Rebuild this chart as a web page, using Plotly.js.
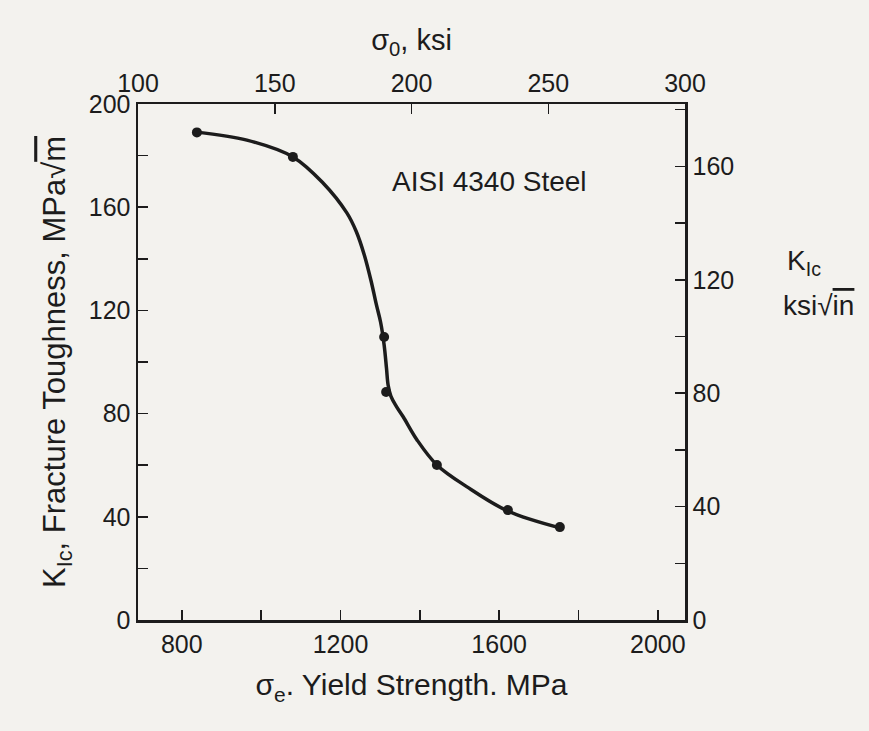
<!DOCTYPE html>
<html>
<head>
<meta charset="utf-8">
<script src="https://cdn.plot.ly/plotly-3.0.1.min.js"></script>
<style>
html,body{margin:0;padding:0;background:#ffffff;}
#chart{width:869px;height:731px;}
</style>
</head>
<body>
<div id="chart"></div>
<script>
// Measured data points: yield strength (MPa) vs fracture toughness (MPa·√m)
var pointYield = [838, 1080, 1310, 1315, 1443, 1622, 1753];
var pointKic   = [189, 179.5, 109.7, 88.4, 60.1, 42.6, 36.0];

// Smooth fitted curve
var curveYield = [838, 964, 1080, 1156, 1216, 1240, 1260, 1277, 1290, 1301, 1310, 1316, 1320, 1327, 1340, 1358, 1393, 1443, 1519, 1622, 1753];
var curveKic   = [189.1, 186.0, 179.5, 169.4, 157.8, 150.5, 141.5, 131.5, 122.5, 115.5, 106.6, 97.5, 91.1, 86.8, 83.0, 78.8, 69.8, 60.1, 51.6, 42.2, 35.7];

// Axis tick definitions
var mpaTicks = [800, 1000, 1200, 1400, 1600, 1800, 2000];
var mpaLabels = ['800', '', '1200', '', '1600', '', '2000'];
var ksiTicks = [100, 150, 200, 250, 300];
var ksiLabels = ['100', '150', '200', '250', '300'];
var kMpaTicks = [0, 20, 40, 60, 80, 100, 120, 140, 160, 180, 200];
var kMpaLabels = ['0', '', '40', '', '80', '', '120', '', '160', '', '200'];
var kKsiTicks = [0, 20, 40, 60, 80, 100, 120, 140, 160, 180];
var kKsiLabels = ['0', '', '40', '', '80', '', '120', '', '160', ''];

var MPA_PER_KSI = 6.895;
var MPAM_PER_KSIIN = 1.0988;
var xMin = 100 * MPA_PER_KSI, xMax = 300 * MPA_PER_KSI;
var yMin = 0, yMax = 200;

var ink = '#1c1c1c';
var fontFam = 'Liberation Sans, Arial, sans-serif';

var traces = [
  {
    x: curveYield, y: curveKic, type: 'scatter', mode: 'lines',
    line: {color: ink, width: 3.5, shape: 'spline', smoothing: 1.0},
    hoverinfo: 'skip', showlegend: false
  },
  {
    x: pointYield, y: pointKic, type: 'scatter', mode: 'markers',
    marker: {color: ink, size: 10}, showlegend: false
  },
  {
    // same points in ksi / ksi·√in units, invisible, so the top and right axes are drawn
    x: pointYield.map(function (v) { return v / MPA_PER_KSI; }),
    y: pointKic.map(function (v) { return v / MPAM_PER_KSIIN; }),
    xaxis: 'x2', yaxis: 'y2', type: 'scatter', mode: 'markers',
    marker: {color: ink, size: 9, opacity: 0}, hoverinfo: 'skip', showlegend: false
  }
];

var axisCommon = {
  showgrid: false, zeroline: false, showline: true,
  linecolor: ink, linewidth: 2.5,
  ticks: 'inside', ticklen: 10, tickwidth: 1.5, tickcolor: ink,
  tickfont: {family: fontFam, size: 25, color: ink},
  tickmode: 'array', fixedrange: true
};

var layout = {
  width: 869, height: 731,
  margin: {l: 138, r: 184, t: 104, b: 111},
  paper_bgcolor: '#f3f2ee',
  plot_bgcolor: '#f3f2ee',
  showlegend: false,
  font: {family: fontFam, color: ink},
  xaxis: Object.assign({}, axisCommon, {
    range: [xMin, xMax], tickvals: mpaTicks, ticktext: mpaLabels,
    title: {text: 'σ<sub>e</sub>. Yield Strength. MPa', font: {family: fontFam, size: 30, color: ink}, standoff: 18}
  }),
  xaxis2: Object.assign({}, axisCommon, {
    overlaying: 'x', side: 'top', anchor: 'y2',
    range: [xMin / MPA_PER_KSI, xMax / MPA_PER_KSI], tickvals: ksiTicks, ticktext: ksiLabels,
    title: {text: 'σ<sub>0</sub>, ksi', font: {family: fontFam, size: 29, color: ink}, standoff: 10}
  }),
  yaxis: Object.assign({}, axisCommon, {
    range: [yMin, yMax], tickvals: kMpaTicks, ticktext: kMpaLabels,
    title: {text: 'K<sub>Ic</sub>, Fracture Toughness, MPa√<span style="text-decoration:overline">m</span>', font: {family: fontFam, size: 31, color: ink}, standoff: 14}
  }),
  yaxis2: Object.assign({}, axisCommon, {
    overlaying: 'y', side: 'right', anchor: 'x2',
    range: [yMin / MPAM_PER_KSIIN, yMax / MPAM_PER_KSIIN], tickvals: kKsiTicks, ticktext: kKsiLabels
  }),
  annotations: [
    {text: 'AISI 4340 Steel', x: 1575, y: 170, xref: 'x', yref: 'y', showarrow: false,
     font: {family: fontFam, size: 28, color: ink}},
    {text: 'K<sub>Ic</sub>', x: 1.183, y: 0.73, xref: 'paper', yref: 'paper', xanchor: 'left', showarrow: false,
     font: {family: fontFam, size: 28, color: ink}},
    {text: 'ksi√<span style="text-decoration:overline">in</span>', x: 1.175, y: 0.61, xref: 'paper', yref: 'paper', xanchor: 'left', showarrow: false,
     font: {family: fontFam, size: 28, color: ink}}
  ]
};

Plotly.newPlot('chart', traces, layout, {displayModeBar: false, staticPlot: true});
</script>
</body>
</html>
